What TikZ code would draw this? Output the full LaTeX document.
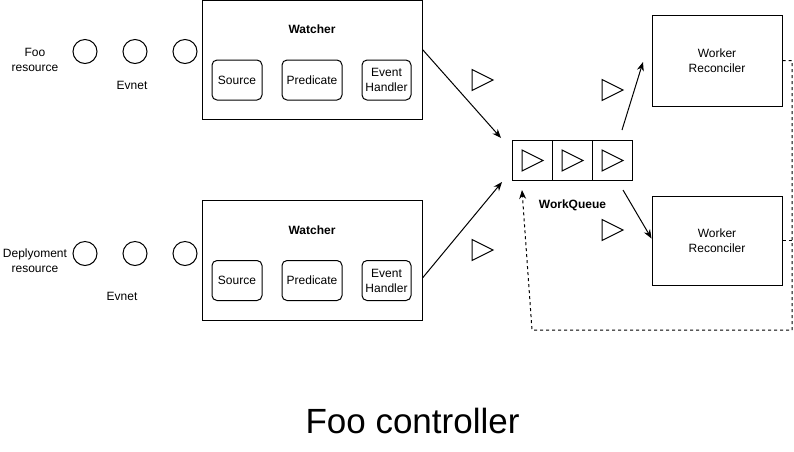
\documentclass[tikz,border=0pt]{standalone}
\usepackage{fontspec}
\setmainfont{Liberation Sans}
\usetikzlibrary{arrows.meta}
\begin{document}
\begin{tikzpicture}[x=1pt,y=-1pt,line width=1pt,
  every node/.style={font=\fontsize{12}{15}\selectfont, align=center, inner sep=0pt},
  frame/.style={draw, rectangle, minimum width=220pt, minimum height=119pt},
  part/.style={draw, rectangle, rounded corners=5pt, minimum height=40pt},
  event/.style={draw, circle, minimum size=24pt},
  cell/.style={draw, rectangle, minimum size=40pt},
  worker/.style={draw, rectangle, minimum width=130pt, minimum height=90pt},
  heading/.style={font=\fontsize{12}{15}\selectfont\bfseries},
  flow/.style={-{Stealth[length=9pt,width=7pt]}},
  back/.style={dash pattern=on 3pt off 3pt}]
\useasboundingbox (0,0) rectangle (794,451);
% foo watcher
\node[frame] (watchA) at (312,59.5) {};
\node[heading] (headA) at (312,29) {Watcher};
\node[part, minimum width=50pt] (srcA) at (237,80) {Source};
\node[part, minimum width=60pt] (predA) at (312,80) {Predicate};
\node[part, minimum width=49pt] (ehA) at (386.5,80) {Event\\Handler};
\foreach \x [count=\i] in {85,135,185}
  \node[event] (evA\i) at (\x,51.5) {};
\node (resA) at (35,60) {Foo\\resource};
\node (lblA) at (132,85) {Evnet};
% deployment watcher
\node[frame, minimum height=120pt] (watchB) at (312,260) {};
\node[heading] (headB) at (312,230) {Watcher};
\node[part, minimum width=50pt] (srcB) at (237,280.5) {Source};
\node[part, minimum width=60pt] (predB) at (312,280.5) {Predicate};
\node[part, minimum width=49pt] (ehB) at (386.5,280.5) {Event\\Handler};
\foreach \x [count=\i] in {85,135,185}
  \node[event] (evB\i) at (\x,253.5) {};
\node (resB) at (35,260.5) {Deplyoment\\resource};
\node (lblB) at (122,296) {Evnet};
% work queue
\node[cell] (q1) at (532,160.5) {};
\node[cell] (q2) at (572,160.5) {};
\node[cell] (q3) at (612,160.5) {};
\node[heading] (qname) at (572.5,205) {WorkQueue};
% workers
\node[worker, minimum height=91pt] (wkA) at (717,60.5) {Worker\\Reconciler};
\node[worker, minimum height=89pt] (wkB) at (717,240.5) {Worker\\Reconciler};
% items
\foreach \x/\y in {522/160.5, 562/160.5, 602/160.5, 472/80, 602/90, 472/250, 602/230}
  \draw[line join=miter] (\x,{\y-10.5}) -- ++(21,10.5) -- ++(-21,10.5) -- cycle;
% connectors
\coordinate (inA) at (501,138);
\coordinate (inB) at (502,182);
\coordinate (outA) at (622,130);
\coordinate (toA) at (643,62);
\coordinate (outB) at (623,190);
\coordinate (requeue) at (522,190);
\draw[flow] ([yshift=10pt]watchA.east) -- (inA);
\draw[flow] ([yshift=-18pt]watchB.east) -- (inB);
\draw[flow] (outA) -- (toA);
\draw[flow] (outB) -- ([yshift=2pt]wkB.west);
\draw[back, flow] (wkA.east) -- (792,60.5) -- (792,330) -- (532,330) -- (requeue);
\draw[back] (wkB.east) -- (792,240.5);
\node[font=\fontsize{35}{42}\selectfont, anchor=base] (title) at (412.5,433) {Foo controller};
\end{tikzpicture}
\end{document}
